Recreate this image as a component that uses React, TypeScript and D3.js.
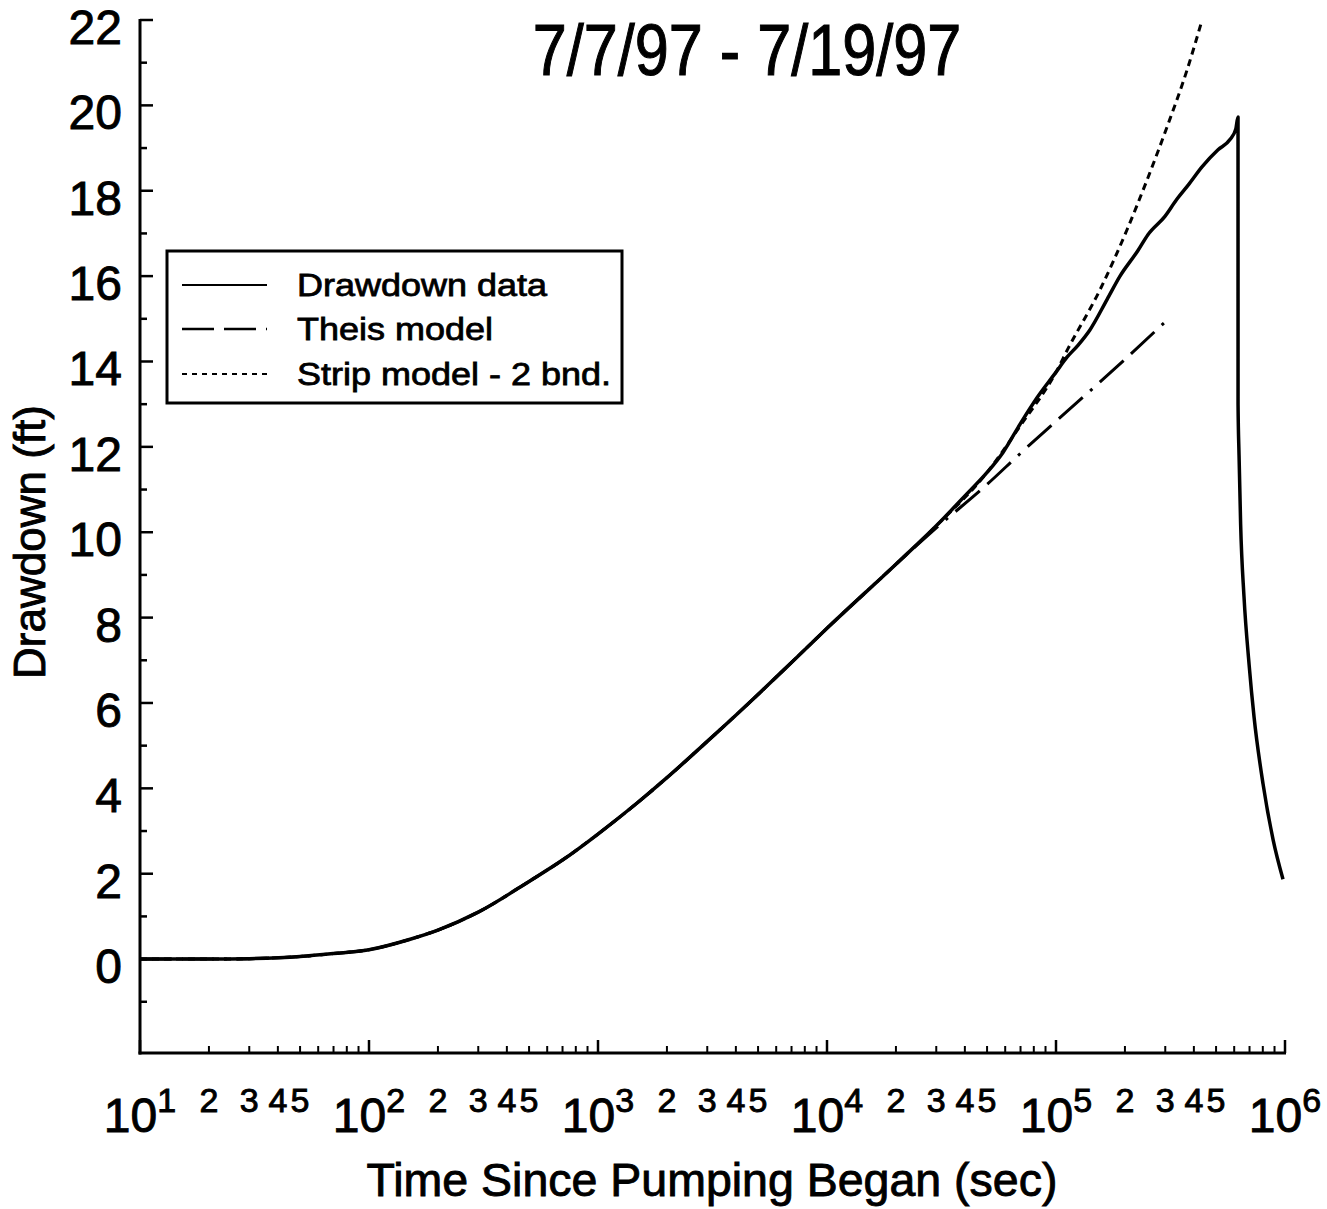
import React from "react";
import * as d3 from "d3";

// ---- Data ----
const dataTime = [10, 20, 30, 50, 70, 100, 150, 200, 300, 500, 700, 1000, 1500, 2000, 3000, 5000, 7000, 10000, 20000, 30000, 40000, 50000, 58700, 70000, 82600, 100000, 111700, 124700, 140600, 167000, 190300, 228000, 252000, 299000, 337000, 380000, 434000, 510000, 575000, 610000, 623500, 623700, 630000, 640000, 662000, 697000, 733000, 802000, 887000, 980000];
const dataDrawdown = [0, 0, 0.01, 0.06, 0.13, 0.22, 0.46, 0.68, 1.1, 1.82, 2.32, 2.93, 3.68, 4.25, 5.1, 6.2, 6.95, 7.75, 9.25, 10.15, 10.85, 11.4, 11.87, 12.55, 13.15, 13.75, 14.1, 14.38, 14.74, 15.45, 16.0, 16.6, 16.97, 17.4, 17.8, 18.15, 18.56, 18.96, 19.2, 19.45, 19.73, 13.0, 11.8, 10.2, 8.5, 6.9, 5.66, 4.1, 2.8, 1.87];

const theisTime = [10, 20, 30, 50, 70, 100, 150, 200, 300, 500, 700, 1000, 1500, 2000, 3000, 5000, 7000, 10000, 20000, 30000, 50000, 70000, 100000, 200000, 300000];
const theisDrawdown = [0, 0, 0.01, 0.06, 0.13, 0.22, 0.46, 0.68, 1.1, 1.82, 2.32, 2.93, 3.68, 4.25, 5.1, 6.2, 6.95, 7.75, 9.25, 10.1, 11.12, 11.85, 12.6, 14.05, 14.93];

const stripTime = [10, 20, 30, 50, 70, 100, 150, 200, 300, 500, 700, 1000, 1500, 2000, 3000, 5000, 7000, 10000, 20000, 30000, 50000, 70000, 100000, 112800, 155600, 204000, 249700, 305700, 373500, 434500];
const stripDrawdown = [0, 0, 0.01, 0.06, 0.13, 0.22, 0.46, 0.68, 1.1, 1.82, 2.32, 2.93, 3.68, 4.25, 5.1, 6.2, 6.95, 7.75, 9.25, 10.15, 11.4, 12.5, 13.75, 14.3, 15.68, 17.08, 18.25, 19.5, 20.83, 22];

const yMajorTicks = [0, 2, 4, 6, 8, 10, 12, 14, 16, 18, 20, 22];
const yMinorTicks = [-1, 1, 3, 5, 7, 9, 11, 13, 15, 17, 19, 21];
const xDecades = [1, 2, 3, 4, 5, 6];
const xMinorMultipliers = [2, 3, 4, 5, 6, 7, 8, 9];
const xMinorLabels = ["2", "3", "4", "5"];

const legendLabels = ["Drawdown data", "Theis model", "Strip model - 2 bnd."];
const titleText = "7/7/97 - 7/19/97";
const xTitle = "Time Since Pumping Began (sec)";
const yTitle = "Drawdown (ft)";

const FONT = "'Liberation Sans', Arial, Helvetica, sans-serif";

export default function App() {
  const W = 1327;
  const H = 1209;
  const x = d3.scaleLog().domain([10, 1e6]).range([140, 1285]);
  const y = d3.scaleLinear().domain([-2.2, 22]).range([1053, 20]);

  const lineSmooth = d3
    .line<[number, number]>()
    .x((d) => x(d[0]))
    .y((d) => y(d[1]))
    .curve(d3.curveMonotoneX);

  const dataPts = dataTime.map((t, i) => [t, dataDrawdown[i]] as [number, number]);
  const theisPts = theisTime.map((t, i) => [t, theisDrawdown[i]] as [number, number]);
  const stripPts = stripTime.map((t, i) => [t, stripDrawdown[i]] as [number, number]);

  const x0 = x(10);
  const yBottom = y(-2.2);

  const theisDash = "32 10 32 10 3 10";
  const stripDash = "7 5";

  const legendRows = [285, 329, 374];
  const textStroke = { stroke: "#000", strokeWidth: 0.9 };

  return (
    <svg
      width={W}
      height={H}
      viewBox={`0 0 ${W} ${H}`}
      style={{ position: "absolute", left: 0, top: 0, background: "#fff" }}
      fontFamily={FONT}
    >
      <rect x={0} y={0} width={W} height={H} fill="#fff" />

      {/* Title */}
      <text
        transform={`translate(747,75) scale(1.02,1.2)`}
        textAnchor="middle"
        fontSize={60}
        fill="#000"
        {...textStroke}
      >
        {titleText}
      </text>

      {/* Axes lines */}
      <line x1={x0} y1={y(22) - 1} x2={x0} y2={yBottom + 1.5} stroke="#000" strokeWidth={3} />
      <line x1={x0 - 1.5} y1={yBottom} x2={x(1e6) + 1} y2={yBottom} stroke="#000" strokeWidth={3} />

      {/* Y ticks */}
      {yMajorTicks.map((v) => (
        <g key={`ym${v}`}>
          <line x1={x0} x2={x0 + 13} y1={y(v)} y2={y(v)} stroke="#000" strokeWidth={2.5} />
          <text x={122} y={y(v) + 24} textAnchor="end" fontSize={48} fill="#000" {...textStroke}>
            {v}
          </text>
        </g>
      ))}
      {yMinorTicks.map((v) => (
        <line key={`yn${v}`} x1={x0} x2={x0 + 7} y1={y(v)} y2={y(v)} stroke="#000" strokeWidth={2.5} />
      ))}

      {/* X ticks */}
      {xDecades.map((e) => {
        const xv = x(Math.pow(10, e));
        return (
          <g key={`xd${e}`}>
            <line x1={xv} x2={xv} y1={yBottom} y2={yBottom - 13} stroke="#000" strokeWidth={2.5} />
            <text x={xv} y={1132} textAnchor="middle" fontSize={48} fill="#000" {...textStroke}>
              10
              <tspan dy={-20} fontSize={34}>
                {e}
              </tspan>
            </text>
          </g>
        );
      })}
      {xDecades.slice(0, 5).map((e) =>
        xMinorMultipliers.map((m) => {
          const xv = x(m * Math.pow(10, e));
          return (
            <line key={`xn${e}-${m}`} x1={xv} x2={xv} y1={yBottom} y2={yBottom - 7} stroke="#000" strokeWidth={2} />
          );
        })
      )}
      {xDecades.slice(0, 5).map((e) =>
        xMinorLabels.map((lbl) => {
          const xv = x(Number(lbl) * Math.pow(10, e));
          return (
            <text key={`xl${e}-${lbl}`} x={xv} y={1112} textAnchor="middle" fontSize={34} fill="#000" {...textStroke}>
              {lbl}
            </text>
          );
        })
      )}

      {/* Axis titles */}
      <text x={712} y={1196} textAnchor="middle" fontSize={46.5} fill="#000" {...textStroke}>
        {xTitle}
      </text>
      <text
        transform={`translate(45,542) rotate(-90)`}
        textAnchor="middle"
        fontSize={44}
        fill="#000"
        {...textStroke}
      >
        {yTitle}
      </text>

      {/* Series */}
      <defs>
        <clipPath id="plotClip">
          <rect x={x0} y={y(22)} width={x(1e6) - x0 + 2} height={yBottom - y(22)} />
        </clipPath>
      </defs>
      <g clipPath="url(#plotClip)">
        <path d={lineSmooth(theisPts) || ""} fill="none" stroke="#000" strokeWidth={3} strokeDasharray={theisDash} />
        <path d={lineSmooth(stripPts) || ""} fill="none" stroke="#000" strokeWidth={3} strokeDasharray={stripDash} />
        <path d={lineSmooth(dataPts) || ""} fill="none" stroke="#000" strokeWidth={3.5} strokeLinejoin="round" />
      </g>

      {/* Legend */}
      <rect x={167} y={251} width={455} height={152} fill="#fff" stroke="#000" strokeWidth={3} />
      <line x1={182} x2={267} y1={legendRows[0]} y2={legendRows[0]} stroke="#000" strokeWidth={2} />
      <line x1={182} x2={267} y1={legendRows[1]} y2={legendRows[1]} stroke="#000" strokeWidth={2.5} strokeDasharray={theisDash} />
      <line x1={182} x2={267} y1={legendRows[2]} y2={legendRows[2]} stroke="#000" strokeWidth={2} strokeDasharray="5 5" />
      {legendLabels.map((lbl, i) => (
        <text
          key={lbl}
          transform={`translate(297,${legendRows[i] + 11}) scale(1,0.86)`}
          fontSize={36}
          fill="#000"
          {...textStroke}
        >
          {lbl}
        </text>
      ))}
    </svg>
  );
}
